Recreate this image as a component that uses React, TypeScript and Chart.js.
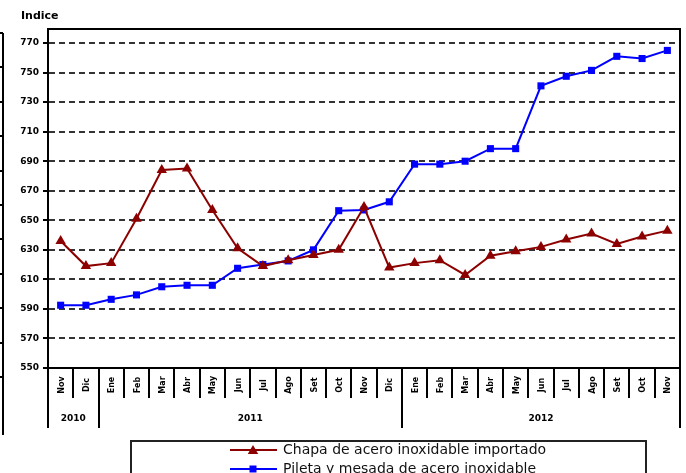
import React, { useEffect, useRef } from "react";
import { Chart, registerables } from "chart.js";

Chart.register(...registerables);

const months = [
  "Nov", "Dic",
  "Ene", "Feb", "Mar", "Abr", "May", "Jun", "Jul", "Ago", "Set", "Oct", "Nov", "Dic",
  "Ene", "Feb", "Mar", "Abr", "May", "Jun", "Jul", "Ago", "Set", "Oct", "Nov",
];
const years = ["2010", "2011", "2012"];
const yearCounts = [2, 12, 11];

const chapa = [
  636, 619, 621, 651, 684, 685, 657, 631, 619, 623, 626.5, 630, 659, 618,
  621, 623, 613, 626, 629, 632, 637, 641, 634, 639, 643,
];
const pileta = [
  592.5, 592.5, 596.5, 599.5, 605, 606, 606, 617.5, 620, 622.5, 630, 656.5, 657, 662.5,
  688, 688, 690, 698.5, 698.5, 741, 747.5, 751.5, 761, 759.5, 765,
];
const yTicks = [550, 570, 590, 610, 630, 650, 670, 690, 710, 730, 750, 770];

const seriesNames = [
  "Chapa de acero inoxidable importado",
  "Pileta y mesada de acero inoxidable",
];
const RED = "#8c0000";
const BLUE = "#0000ff";

function drawTriangle(ctx: CanvasRenderingContext2D, x: number, y: number, r: number) {
  ctx.beginPath();
  let rad = 0;
  ctx.moveTo(x + Math.sin(rad) * r, y - Math.cos(rad) * r);
  rad += (2 * Math.PI) / 3;
  ctx.lineTo(x + Math.sin(rad) * r, y - Math.cos(rad) * r);
  rad += (2 * Math.PI) / 3;
  ctx.lineTo(x + Math.sin(rad) * r, y - Math.cos(rad) * r);
  ctx.closePath();
  ctx.fill();
}

const decor = {
  id: "decor",
  afterDraw(chart: any) {
    const ctx: CanvasRenderingContext2D = chart.ctx;
    const { left, right, top, bottom } = chart.chartArea;
    const n = months.length;
    const w = (right - left) / n;
    const xs = chart.scales.x;
    ctx.save();
    ctx.strokeStyle = "#000";
    ctx.fillStyle = "#000";
    ctx.lineWidth = 2;
    ctx.setLineDash([]);

    // top and right border
    ctx.beginPath();
    ctx.moveTo(left, top);
    ctx.lineTo(right, top);
    ctx.moveTo(right, top - 1);
    ctx.lineTo(right, bottom + 60);
    ctx.moveTo(left, top);
    ctx.lineTo(left, bottom + 60);
    ctx.stroke();

    // category separators
    const yearBounds: number[] = [];
    let acc = 0;
    yearCounts.forEach((c) => {
      acc += c;
      yearBounds.push(acc);
    });
    ctx.beginPath();
    for (let i = 1; i < n; i++) {
      const x = Math.round(left + i * w);
      const long = yearBounds.includes(i);
      ctx.moveTo(x, bottom);
      ctx.lineTo(x, bottom + (long ? 60 : 30));
    }
    ctx.stroke();

    // month labels
    ctx.font = 'bold 8px "DejaVu Sans"';
    ctx.textAlign = "center";
    ctx.textBaseline = "middle";
    months.forEach((m, i) => {
      const x = xs.getPixelForValue(i);
      ctx.save();
      ctx.translate(x + 1, bottom + 17);
      ctx.rotate(-Math.PI / 2);
      ctx.fillText(m, 0, 0);
      ctx.restore();
    });

    // year labels
    ctx.font = 'bold 9px "DejaVu Sans"';
    let start = 0;
    years.forEach((yr, k) => {
      const end = start + yearCounts[k];
      const cx = left + ((start + end) / 2) * w;
      ctx.fillText(yr, cx, bottom + 51);
      start = end;
    });

    // axis title
    ctx.font = 'bold 11px "DejaVu Sans"';
    ctx.textAlign = "left";
    ctx.fillText("Indice", 21, 16);

    // partial left fragment
    ctx.beginPath();
    ctx.moveTo(3, 33);
    ctx.lineTo(3, 435);
    for (let y = 33; y < 380; y += 34.4) {
      ctx.moveTo(0, Math.round(y));
      ctx.lineTo(3, Math.round(y));
    }
    ctx.stroke();

    // legend
    ctx.strokeStyle = "#222";
    ctx.lineWidth = 2;
    ctx.strokeRect(131, 441, 515, 60);
    const legY = [450, 469];
    const cols = [RED, BLUE];
    legY.forEach((ly, k) => {
      ctx.strokeStyle = cols[k];
      ctx.fillStyle = cols[k];
      ctx.lineWidth = 2;
      ctx.beginPath();
      ctx.moveTo(230, ly);
      ctx.lineTo(277, ly);
      ctx.stroke();
      if (k === 0) drawTriangle(ctx, 253, ly + 1, 6);
      else ctx.fillRect(249.5, ly - 3.5, 7, 7);
      ctx.fillStyle = "#111";
      ctx.font = '14px "DejaVu Sans"';
      ctx.textAlign = "left";
      ctx.textBaseline = "middle";
      ctx.fillText(seriesNames[k], 283, ly);
    });
    ctx.restore();
  },
};

export default function App() {
  const ref = useRef<HTMLCanvasElement>(null);
  useEffect(() => {
    document.body.style.margin = "0";
    const chart = new Chart(ref.current as HTMLCanvasElement, {
      type: "line",
      data: {
        labels: months,
        datasets: [
          {
            label: seriesNames[0],
            data: chapa,
            borderColor: RED,
            backgroundColor: RED,
            borderWidth: 2,
            pointStyle: "triangle",
            pointRadius: 6,
            pointBorderWidth: 0,
            tension: 0,
          },
          {
            label: seriesNames[1],
            data: pileta,
            borderColor: BLUE,
            backgroundColor: BLUE,
            borderWidth: 2,
            pointStyle: "rect",
            pointRadius: 5,
            pointBorderWidth: 0,
            tension: 0,
          },
        ],
      },
      options: {
        animation: false,
        responsive: false,
        devicePixelRatio: 1,
        layout: { padding: { top: 29, right: 4, left: 0, bottom: 0 } },
        plugins: { legend: { display: false }, tooltip: { enabled: false } },
        scales: {
          x: {
            type: "category",
            offset: true,
            grid: { display: false },
            border: { display: true, color: "#000", width: 2 },
            ticks: { display: false },
            afterFit: (s: any) => {
              s.height = 105;
            },
          },
          y: {
            min: 550,
            max: 779.5,
            afterBuildTicks: (s: any) => {
              s.ticks = yTicks.map((v) => ({ value: v }));
            },
            afterFit: (s: any) => {
              s.width = 48;
            },
            grid: {
              color: "#333",
              lineWidth: 2,
              drawTicks: true,
              tickLength: 5,
              tickColor: "#000",
              tickWidth: 2,
              tickBorderDash: [],
            } as any,
            border: { display: true, color: "#000", width: 2, dash: [6, 4] } as any,
            ticks: {
              padding: 4,
              color: "#000",
              font: { family: "DejaVu Sans", weight: "bold", size: 9 },
              callback: (v: any) => String(v),
            },
          },
        },
      },
      plugins: [decor],
    });
    return () => chart.destroy();
  }, []);
  return (
    <div style={{ position: "absolute", left: 0, top: 0, width: 686, height: 473 }}>
      <canvas ref={ref} width={686} height={473} style={{ width: 686, height: 473 }} />
    </div>
  );
}
